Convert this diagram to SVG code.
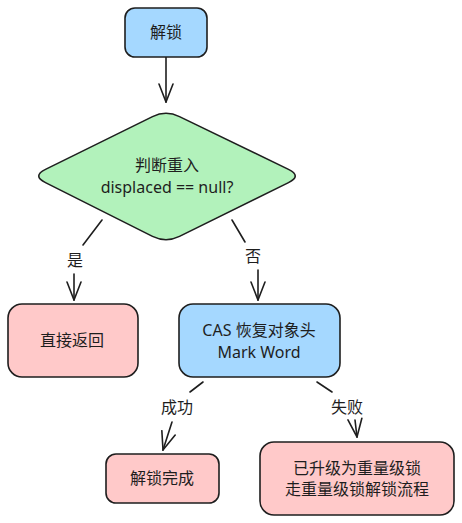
<svg xmlns="http://www.w3.org/2000/svg" width="462" height="523" viewBox="0 0 462 523">
<style>
.box{stroke:#1e1e1e;stroke-width:1.6}
.blue{fill:#a5d8ff}
.green{fill:#b2f2bb}
.pink{fill:#ffc9c9}
.t{font-family:"Noto Sans","Noto Sans CJK SC",sans-serif;font-size:16px;fill:#1e1e1e;text-anchor:middle;dominant-baseline:central}
.c{stroke:#1e1e1e;stroke-width:1.6;fill:none;stroke-linecap:round}
</style>
<defs>
<marker id="ah" markerUnits="userSpaceOnUse" viewBox="0 0 20 16" refX="19" refY="8" markerWidth="20" markerHeight="16" orient="auto">
<path d="M1,1 L19,8 L1,15" fill="none" stroke="#1e1e1e" stroke-width="1.6" stroke-linecap="round"/>
</marker>
</defs>
<rect width="462" height="523" fill="#ffffff"/>
<g id="connectors">
<line class="c" x1="166" y1="52" x2="166" y2="102" marker-end="url(#ah)"/>
<line class="c" x1="102" y1="220" x2="83" y2="245"/>
<line class="c" x1="74" y1="274" x2="74" y2="300" marker-end="url(#ah)"/>
<line class="c" x1="232" y1="220" x2="245" y2="242"/>
<line class="c" x1="258" y1="270" x2="258" y2="300" marker-end="url(#ah)"/>
<line class="c" x1="203" y1="382" x2="190" y2="392"/>
<line class="c" x1="172" y1="422" x2="163" y2="450" marker-end="url(#ah)"/>
<line class="c" x1="317" y1="382" x2="332" y2="392"/>
<line class="c" x1="355" y1="420" x2="357" y2="437" marker-end="url(#ah)"/>
<text class="t" x="75" y="260">是</text>
<text class="t" x="253" y="256">否</text>
<text class="t" x="177" y="407">成功</text>
<text class="t" x="347" y="407">失败</text>
</g>
<g id="n-unlock">
<rect class="box blue" x="125" y="8" width="82" height="49" rx="10"/>
<text class="t" x="166" y="32">解锁</text>
</g>
<g id="n-check">
<path class="box green" d="M152.5,116.6 Q166,110 179.5,116.6 L288.5,169.4 Q302,176 288.5,182.6 L179.5,236.4 Q166,243 152.5,236.4 L45.5,182.6 Q32,176 45.5,169.4 Z"/>
<text class="t" x="167" y="165">判断重入</text>
<text class="t" x="167" y="187">displaced == null?</text>
</g>
<g id="n-return">
<rect class="box pink" x="8" y="304" width="130" height="73" rx="14"/>
<text class="t" x="72" y="340">直接返回</text>
</g>
<g id="n-cas">
<rect class="box blue" x="179" y="304" width="161" height="73" rx="14"/>
<text class="t" x="259" y="330">CAS 恢复对象头</text>
<text class="t" x="259" y="352">Mark Word</text>
</g>
<g id="n-done">
<rect class="box pink" x="106" y="454" width="113" height="49" rx="10"/>
<text class="t" x="162" y="478">解锁完成</text>
</g>
<g id="n-heavy">
<rect class="box pink" x="260" y="442" width="194" height="73" rx="14"/>
<text class="t" x="357" y="468">已升级为重量级锁</text>
<text class="t" x="357" y="489">走重量级锁解锁流程</text>
</g>
</svg>
